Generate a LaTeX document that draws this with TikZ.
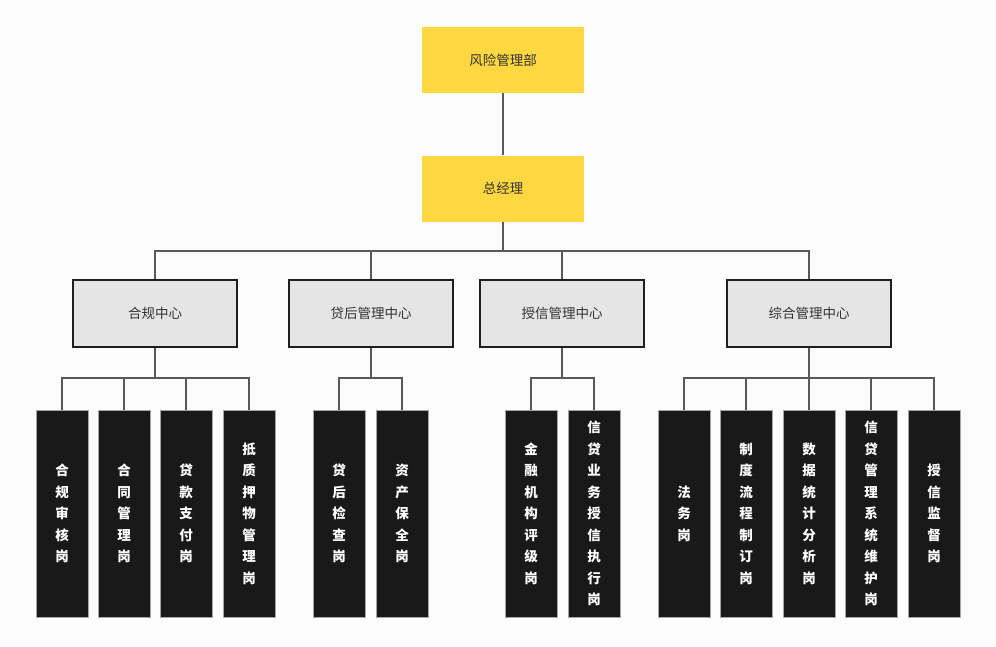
\documentclass[tikz,border=0pt]{standalone}
\usepackage{fontspec}
\setmainfont{Noto Sans CJK SC}
\begin{document}
\begin{tikzpicture}[x=1pt,y=-1pt,
  topbox/.style={draw=none,fill=topyellow,minimum width=162pt,minimum height=66pt,inner sep=0pt,font=\fontsize{13.5}{15}\selectfont,text=black!80},
  midbox/.style={draw=black!88,line width=2.2pt,fill=black!10,minimum width=164pt,minimum height=67pt,inner sep=0pt,font=\fontsize{13.5}{15}\selectfont,text=black!80},
  leaf/.style={draw=black!35,line width=0.6pt,fill=black!90,minimum width=52pt,minimum height=207pt,inner sep=0pt,align=center,text=white,font=\fontsize{13.5}{21.5}\selectfont\bfseries},
  conn/.style={draw=black!65,line width=1.6pt}]
\definecolor{topyellow}{HTML}{FFD740}
\fill[white!99!black] (0,0) rectangle (996,646);
\useasboundingbox (0,0) rectangle (996,646);
\node[topbox] (fx) at (503,60) {风险管理部};
\node[topbox] (zjl) at (503,188.5) {总经理};
\node[midbox] (m1) at (155,313.5) {合规中心};
\node[midbox] (m2) at (371,313.5) {贷后管理中心};
\node[midbox] (m3) at (562,313.5) {授信管理中心};
\node[midbox] (m4) at (809,313.5) {综合管理中心};
% leaves
\node[leaf] (l11) at (62,513.5) {合\\规\\审\\核\\岗};
\node[leaf] (l12) at (124,513.5) {合\\同\\管\\理\\岗};
\node[leaf] (l13) at (186,513.5) {贷\\款\\支\\付\\岗};
\node[leaf] (l14) at (249,513.5) {抵\\质\\押\\物\\管\\理\\岗};
\node[leaf] (l21) at (339,513.5) {贷\\后\\检\\查\\岗};
\node[leaf] (l22) at (402,513.5) {资\\产\\保\\全\\岗};
\node[leaf] (l31) at (531,513.5) {金\\融\\机\\构\\评\\级\\岗};
\node[leaf] (l32) at (594,513.5) {信\\贷\\业\\务\\授\\信\\执\\行\\岗};
\node[leaf] (l41) at (684,513.5) {法\\务\\岗};
\node[leaf] (l42) at (746,513.5) {制\\度\\流\\程\\制\\订\\岗};
\node[leaf] (l43) at (809,513.5) {数\\据\\统\\计\\分\\析\\岗};
\node[leaf] (l44) at (871,513.5) {信\\贷\\管\\理\\系\\统\\维\\护\\岗};
\node[leaf] (l45) at (934,513.5) {授\\信\\监\\督\\岗};
% connectors
\draw[conn] (fx.south) -- (zjl.north);
\coordinate (b0) at (503,251);
\draw[conn] (zjl.south) -- (b0);
\foreach \m in {m1,m2,m3,m4}{
  \draw[conn] (b0) -| (\m.north);
}
\foreach \m/\y/\ls in {m1/378/{l11,l12,l13,l14},m2/378/{l21,l22},m3/378/{l31,l32},m4/378/{l41,l42,l43,l44,l45}}{
  \coordinate (bb) at (\m.south |- 0,\y);
  \draw[conn] (\m.south) -- (bb);
  \foreach \l in \ls {
    \draw[conn] (bb) -| (\l.north);
  }
}
\end{tikzpicture}
\end{document}
